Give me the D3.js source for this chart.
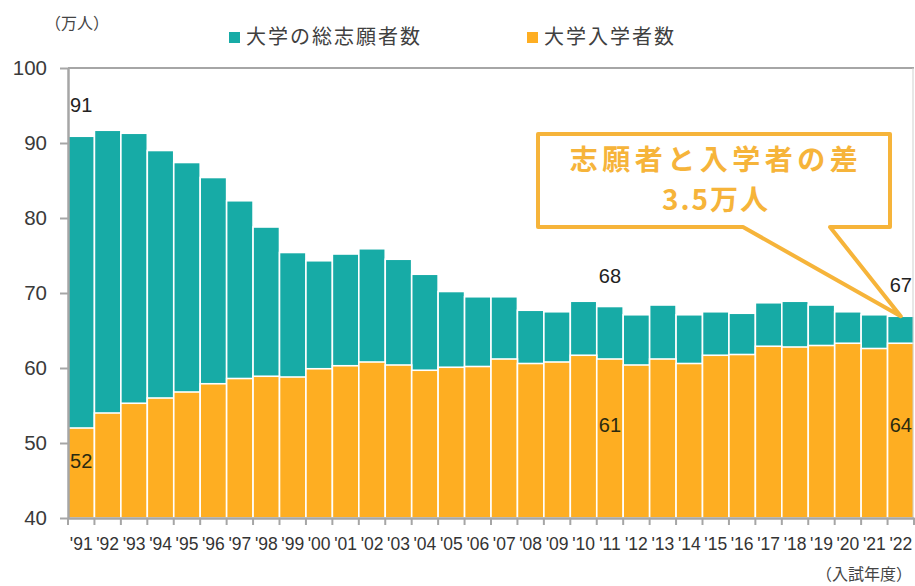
<!DOCTYPE html>
<html>
<head>
<meta charset="utf-8">
<script src="https://cdn.jsdelivr.net/npm/d3@7"></script>
<style>
  body { margin: 0; background: #fff; }
  text { font-family: "Liberation Sans", Arial, sans-serif; }
  .jp { font-family: "Noto Sans CJK JP", sans-serif; }
</style>
</head>
<body>
<div id="chart-area"></div>
<script>
let years = ['91','92','93','94','95','96','97','98','99','00','01','02','03','04','05','06',
  '07','08','09','10','11','12','13','14','15','16','17','18','19','20','21','22'];
// 大学の総志願者数 (万人)
let applicants = [90.9, 91.7, 91.3, 89.0, 87.4, 85.4, 82.3, 78.8, 75.4, 74.3, 75.2, 75.9, 74.5, 72.5, 70.2, 69.5,
  69.5, 67.7, 67.5, 68.9, 68.2, 67.1, 68.4, 67.1, 67.5, 67.3, 68.7, 68.9, 68.4, 67.5, 67.1, 66.9];
// 大学入学者数 (万人)
let enrolled = [52.0, 54.0, 55.3, 56.0, 56.8, 57.9, 58.6, 58.9, 58.8, 59.9, 60.3, 60.8, 60.4, 59.7, 60.1, 60.2,
  61.2, 60.6, 60.8, 61.7, 61.2, 60.4, 61.2, 60.6, 61.7, 61.8, 62.9, 62.8, 63.0, 63.3, 62.6, 63.3];
let yTicks = [40, 50, 60, 70, 80, 90, 100];
let applicantLabels = [{ year: '91', text: '91' }, { year: '11', text: '68' }, { year: '22', text: '67' }];
let enrolledLabels = [{ year: '91', text: '52' }, { year: '11', text: '61' }, { year: '22', text: '64' }];
let seriesNames = ['大学の総志願者数', '大学入学者数'];
let calloutLines = ['志願者と入学者の差', '3.5万人'];

let W = 915, H = 586;
let margin = { left: 68, right: 1, top: 68, bottom: 68 };
let teal = '#17aba6', orange = '#feae22', callColor = '#f6b43a', axisGray = '#a6a6a6';

let svg = d3.select('#chart-area').append('svg')
  .attr('width', W)
  .attr('height', H);

let x = d3.scaleBand()
  .domain(years)
  .range([margin.left, W - margin.right])
  .padding(0);

let y = d3.scaleLinear()
  .domain([40, 100])
  .range([H - margin.bottom, margin.top]);

// bars: applicants behind, enrolled in front
svg.append('g').selectAll('rect')
  .data(years)
  .enter()
  .append('rect')
  .attr('x', d => x(d))
  .attr('y', (d, i) => y(applicants[i]))
  .attr('width', x.bandwidth())
  .attr('height', (d, i) => y(40) - y(applicants[i]))
  .attr('fill', teal)
  .attr('stroke', '#fff')
  .attr('stroke-width', 1.6);

svg.append('g').selectAll('rect')
  .data(years)
  .enter()
  .append('rect')
  .attr('x', d => x(d))
  .attr('y', (d, i) => y(enrolled[i]))
  .attr('width', x.bandwidth())
  .attr('height', (d, i) => y(40) - y(enrolled[i]))
  .attr('fill', orange)
  .attr('stroke', '#fff')
  .attr('stroke-width', 1.6);

// frame: top + right
svg.append('line')
  .attr('x1', margin.left).attr('x2', W - margin.right)
  .attr('y1', y(100)).attr('y2', y(100))
  .attr('stroke', axisGray).attr('stroke-width', 2);
svg.append('line')
  .attr('x1', W - margin.right - 1).attr('x2', W - margin.right - 1)
  .attr('y1', y(100)).attr('y2', y(40))
  .attr('stroke', '#cfcfcf').attr('stroke-width', 1);

// left axis
let leftAxis = d3.axisLeft(y)
  .tickValues(yTicks)
  .tickSize(8)
  .tickSizeOuter(0)
  .tickPadding(13);
let gl = svg.append('g')
  .attr('transform', `translate(${margin.left}, 0)`)
  .call(leftAxis);
gl.select('.domain').attr('stroke', axisGray).attr('stroke-width', 2.5);
gl.selectAll('.tick line').attr('stroke', axisGray).attr('stroke-width', 2);
gl.selectAll('.tick text')
  .attr('font-size', 20.5)
  .attr('fill', '#3a3a3a')
  .style('font-family', '"Liberation Sans", Arial, sans-serif');

// bottom axis: labels centred, ticks on boundaries
let bottomAxis = d3.axisBottom(x)
  .tickSize(0)
  .tickPadding(20)
  .tickFormat(d => "'" + d);
let gb = svg.append('g')
  .attr('transform', `translate(0, ${y(40)})`)
  .call(bottomAxis);
gb.select('.domain').attr('stroke', axisGray).attr('stroke-width', 2.5);
gb.selectAll('.tick text')
  .attr('font-size', 17.5)
  .attr('fill', '#333')
  .style('font-family', '"Liberation Sans", Arial, sans-serif');

gb.selectAll('.bound')
  .data(years.concat(['end']))
  .enter()
  .append('line')
  .attr('x1', (d, i) => i < years.length ? x(d) : x(years[years.length - 1]) + x.bandwidth())
  .attr('x2', (d, i) => i < years.length ? x(d) : x(years[years.length - 1]) + x.bandwidth())
  .attr('y1', 0)
  .attr('y2', 7)
  .attr('stroke', axisGray)
  .attr('stroke-width', 2);

// data labels
svg.selectAll('.lab-a')
  .data(applicantLabels)
  .enter()
  .append('text')
  .attr('x', d => x(d.year) + x.bandwidth() / 2)
  .attr('y', d => y(applicants[years.indexOf(d.year)]) - 31)
  .attr('dy', '0.35em')
  .attr('text-anchor', 'middle')
  .attr('font-size', 20)
  .attr('fill', '#222')
  .text(d => d.text);

svg.selectAll('.lab-e')
  .data(enrolledLabels)
  .enter()
  .append('text')
  .attr('x', d => x(d.year) + x.bandwidth() / 2)
  .attr('y', d => d.year === '91' ? y(enrolled[0]) + 33 : y(52.4))
  .attr('dy', '0.35em')
  .attr('text-anchor', 'middle')
  .attr('font-size', 20)
  .attr('fill', '#2a2a10')
  .text(d => d.text);

// unit labels
svg.append('text')
  .attr('class', 'jp')
  .attr('x', 45).attr('y', 23)
  .attr('dy', '0.35em')
  .attr('font-size', 16)
  .attr('fill', '#444')
  .text('（万人）');
svg.append('text')
  .attr('class', 'jp')
  .attr('x', 912).attr('y', 574)
  .attr('dy', '0.35em')
  .attr('text-anchor', 'end')
  .attr('font-size', 16)
  .attr('fill', '#444')
  .text('（入試年度）');

// legend
let legend = svg.append('g');
let legendX = [229, 527];
[teal, orange].forEach((c, i) => {
  legend.append('rect')
    .attr('x', legendX[i]).attr('y', 32)
    .attr('width', 11).attr('height', 11)
    .attr('fill', c);
  legend.append('text')
    .attr('class', 'jp')
    .attr('x', legendX[i] + 17).attr('y', 37)
    .attr('dy', '0.36em')
    .attr('font-size', 20)
    .attr('letter-spacing', 2)
    .attr('fill', '#404040')
    .text(seriesNames[i]);
});

// callout pointing at the last bar
let tipX = x('22') + x.bandwidth() / 2;
let tipY = y(applicants[applicants.length - 1]);
let box = { l: 538, t: 134, r: 890, b: 227 };
let callPath = d3.path();
callPath.moveTo(box.l, box.t);
callPath.lineTo(box.r, box.t);
callPath.lineTo(box.r, box.b);
callPath.lineTo(830, box.b);
callPath.lineTo(tipX, tipY);
callPath.lineTo(743, box.b);
callPath.lineTo(box.l, box.b);
callPath.closePath();
svg.append('path')
  .attr('d', callPath.toString())
  .attr('fill', '#fff')
  .attr('stroke', callColor)
  .attr('stroke-width', 4)
  .attr('stroke-linejoin', 'round');

svg.selectAll('.call-text')
  .data(calloutLines)
  .enter()
  .append('text')
  .attr('class', 'jp')
  .attr('x', (box.l + box.r) / 2 + 2)
  .attr('y', (d, i) => 160 + i * 40)
  .attr('dy', '0.36em')
  .attr('text-anchor', 'middle')
  .attr('font-size', 28)
  .attr('font-weight', 'bold')
  .attr('letter-spacing', (d, i) => i === 0 ? 4.5 : 2)
  .attr('fill', callColor)
  .text(d => d);
</script>
</body>
</html>
